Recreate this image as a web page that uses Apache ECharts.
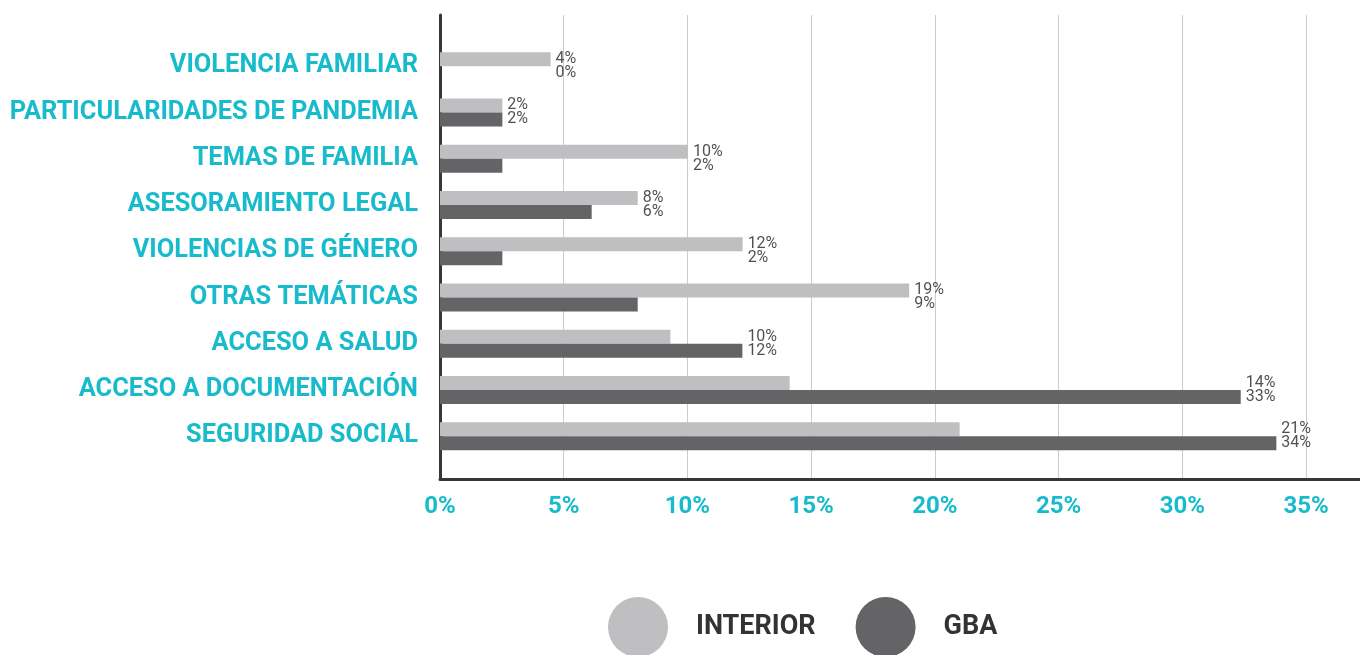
<!DOCTYPE html>
<html>
<head>
<meta charset="utf-8">
<script src="https://cdn.jsdelivr.net/npm/echarts@6/dist/echarts.min.js"></script>
<style>
html,body{margin:0;padding:0;background:#fff;}
#chart{width:1360px;height:655px;}
</style>
</head>
<body>
<div id="chart"></div>
<script>
const categories = [
  'VIOLENCIA FAMILIAR',
  'PARTICULARIDADES DE PANDEMIA',
  'TEMAS DE FAMILIA',
  'ASESORAMIENTO LEGAL',
  'VIOLENCIAS DE GÉNERO',
  'OTRAS TEMÁTICAS',
  'ACCESO A SALUD',
  'ACCESO A DOCUMENTACIÓN',
  'SEGURIDAD SOCIAL'
];
const interiorValues = [4.47, 2.52, 10.02, 7.99, 12.23, 18.96, 9.31, 14.13, 21.0];
const gbaValues = [0, 2.52, 2.52, 6.13, 2.52, 7.99, 12.22, 32.36, 33.8];
const interiorLabels = ['4%', '2%', '10%', '8%', '12%', '19%', '10%', '14%', '21%'];
const gbaLabels = ['0%', '2%', '2%', '6%', '2%', '9%', '12%', '33%', '34%'];
const seriesNames = ['INTERIOR', 'GBA'];

const TEAL = '#17BBCB';
const AXIS = '#3a3637';
const C_INT = '#BFBFC1';
const C_GBA = '#646366';
const MAX = 37.18;

const labelAnchor = interiorValues.map((v, i) => Math.max(v, gbaValues[i]));

const chart = echarts.init(document.getElementById('chart'));
chart.setOption({
  animation: false,
  backgroundColor: '#ffffff',
  grid: [
    {left: 440, right: 0, top: 43, bottom: 195.75, containLabel: false},
    {left: 440, right: 0, top: 15, bottom: 176, containLabel: false}
  ],
  legend: {
    data: seriesNames,
    left: 608, top: 597,
    padding: 0,
    icon: 'circle',
    itemWidth: 60, itemHeight: 60,
    itemGap: 40,
    textStyle: {fontFamily: 'Roboto', fontWeight: 'bold', fontSize: 27, color: '#333333', padding: [4, 0, 0, 23]}
  },
  xAxis: [
    {gridIndex: 0, type: 'value', min: 0, max: MAX, show: false},
    {gridIndex: 1, type: 'value', min: 0, max: MAX, interval: 5,
      axisLine: {show: true, lineStyle: {color: AXIS, width: 3}},
      axisTick: {show: false},
      splitLine: {show: true, lineStyle: {color: '#cccccc', width: 1}},
      axisLabel: {margin: 16, showMaxLabel: false, color: TEAL, fontFamily: 'Roboto', fontWeight: 'bold', fontSize: 24, formatter: '{value}%'}
    }
  ],
  yAxis: [
    {gridIndex: 0, type: 'category', data: categories, inverse: true,
      axisLine: {show: false}, axisTick: {show: false}, splitLine: {show: false},
      axisLabel: {margin: 22, color: TEAL, fontFamily: 'Roboto', fontWeight: 'bold', fontSize: 25.4}
    },
    {gridIndex: 1, type: 'value', min: 0, max: 1,
      axisLine: {show: true, lineStyle: {color: AXIS, width: 3}},
      axisTick: {show: false}, axisLabel: {show: false}, splitLine: {show: false}
    }
  ],
  series: [
    {name: 'INTERIOR', type: 'bar', xAxisIndex: 0, yAxisIndex: 0, data: interiorValues,
      barWidth: 14, barGap: '0%', itemStyle: {color: C_INT}, silent: true},
    {name: 'GBA', type: 'bar', xAxisIndex: 0, yAxisIndex: 0, data: gbaValues,
      barWidth: 14, barGap: '0%', itemStyle: {color: C_GBA}, silent: true},
    {name: 'labels', type: 'scatter', xAxisIndex: 0, yAxisIndex: 0, data: labelAnchor,
      symbolSize: 0, silent: true,
      label: {show: true, position: 'right', distance: 5,
        fontFamily: 'Roboto', fontSize: 16, lineHeight: 14, color: '#262626',
        formatter: p => interiorLabels[p.dataIndex] + '\n' + gbaLabels[p.dataIndex]}
    }
  ]
});
</script>
</body>
</html>
